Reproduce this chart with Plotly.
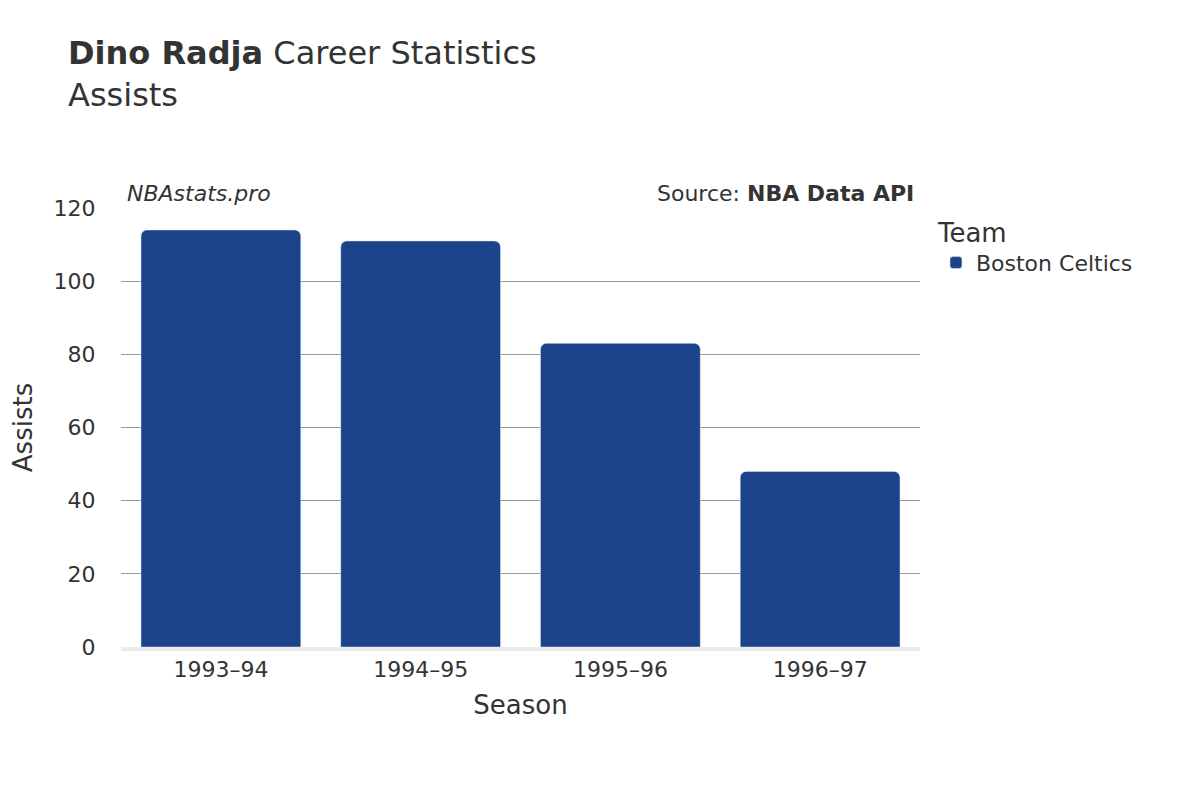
import plotly.graph_objects as go

seasons = ["1993–94", "1994–95", "1995–96", "1996–97"]
assists = [114, 111, 83, 48]
team = "Boston Celtics"

fig = go.Figure(go.Bar(x=seasons, y=assists, name=team, marker_color="#1c4289",
                       showlegend=True))
fig.update_layout(
    width=1200, height=800,
    font=dict(family="DejaVu Sans", color="#333", size=20),
    paper_bgcolor="white", plot_bgcolor="white",
    margin=dict(l=109, r=288, t=200, b=161),
    barcornerradius=6, bargap=0.2,
    title=dict(text="<b>Dino Radja</b> Career Statistics<br>Assists", x=0.05, xanchor="left",
               y=0.93, yanchor="top", font=dict(size=32)),
    legend=dict(title=dict(text="Team", font=dict(size=26)), x=1.02, y=1.0, yanchor="top",
                font=dict(size=22)),
    xaxis=dict(title=dict(text="Season", font=dict(size=26)), showline=True, linecolor="#ebebeb",
               linewidth=4, tickfont=dict(size=22)),
    yaxis=dict(title=dict(text="Assists", font=dict(size=26)), range=[0, 120], dtick=20,
               gridcolor="#999", zeroline=False, tickfont=dict(size=22),
               ticks="outside", ticklen=20, tickcolor="white"),
    annotations=[
        dict(text="<i>NBAstats.pro</i>", xref="paper", yref="paper", x=0.005, y=1.0,
             xanchor="left", yanchor="bottom", showarrow=False, font=dict(size=22)),
        dict(text="Source: <b>NBA Data API</b>", xref="paper", yref="paper", x=0.995, y=1.0,
             xanchor="right", yanchor="bottom", showarrow=False, font=dict(size=22)),
    ],
)
fig.write_html("out.html")
